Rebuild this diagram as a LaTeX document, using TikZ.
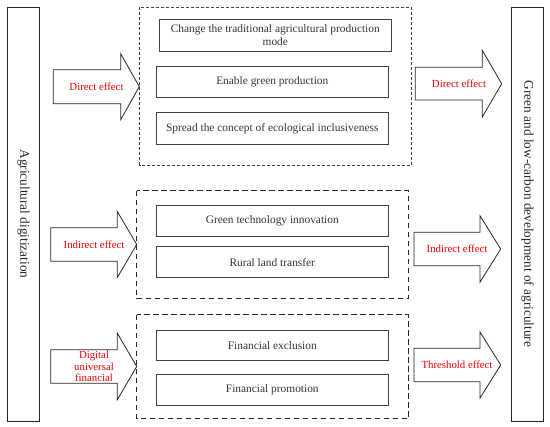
\documentclass[tikz,border=0pt]{standalone}
\usepackage{fontspec}
\setmainfont{Liberation Serif}
\begin{document}
\begin{tikzpicture}[x=1pt,y=-1pt,
  bar/.style={draw=black!85,line width=0.9pt},
  itembox/.style={draw=black!75,line width=0.8pt},
  itemtext/.style={font=\fontsize{11.4}{12.5}\selectfont,text=black!80,align=center},
  finedash/.style={draw=black!75,line width=0.6pt,dash pattern=on 3pt off 2pt},
  coarsedash/.style={draw=black!85,line width=1pt,dash pattern=on 5.5pt off 3.5pt},
  blockarrow/.style={draw=black!85,line width=0.8pt,fill=white,line join=miter},
  redlbl/.style={font=\fontsize{10.8}{11.7}\selectfont,text=red!90!black,align=center,inner sep=0pt},
  sidelbl/.style={rotate=-90,font=\fontsize{13.3}{15}\selectfont,text=black!85}
]
\useasboundingbox (0,0) rectangle (550,427);
% side bars
\draw[bar] (7,7) rectangle (39.5,421);
\node[sidelbl] (src) at (23.5,214) {Agricultural digitization};
\draw[bar] (511,7.5) rectangle (543.5,421.5);
\node[sidelbl] (dst) at (527.5,214) {Green and low-carbon development of agriculture};
% dashed groups
\draw[finedash] (139.7,7.5) rectangle (411.3,165.3);
\draw[coarsedash] (136.7,190.7) rectangle (408.3,298.7);
\draw[coarsedash] (136.7,315) rectangle (408.3,419);
% item boxes
\draw[itembox] (159,19.3) rectangle (391.7,51);
\node[itemtext] (b1) at (275.3,35.2) {Change the traditional agricultural production\\mode};
\draw[itembox] (156,66) rectangle (388.7,97.7);
\node[itemtext] (b2) at (272.3,81.8) {Enable green production};
\draw[itembox] (156,112.7) rectangle (388.7,144);
\node[itemtext] (b3) at (272.3,128.3) {Spread the concept of ecological inclusiveness};
\draw[itembox] (156,205) rectangle (388.7,236.7);
\node[itemtext] (b4) at (272.3,220.8) {Green technology innovation};
\draw[itembox] (156,246.7) rectangle (388.7,277.7);
\node[itemtext] (b5) at (272.3,262.2) {Rural land transfer};
\draw[itembox] (156,330) rectangle (388.7,360.7);
\node[itemtext] (b6) at (272.3,345.3) {Financial exclusion};
\draw[itembox] (156,374.3) rectangle (388.7,405.7);
\node[itemtext] (b7) at (272.3,390) {Financial promotion};
% block arrows: #1 tail x, #2 neck x, #3 tip x, #4 center y, #5 shaft half, #6 head half
\newcommand{\blockarr}[6]{%
  \draw[blockarrow] (#1,#4-#5) -- (#2,#4-#5) -- (#2,#4-#6) -- (#3,#4) -- (#2,#4+#6) -- (#2,#4+#5) -- (#1,#4+#5) -- cycle;}
\blockarr{53.3}{120.7}{139.3}{86.7}{17}{33}
\node[redlbl] (a1) at (96.5,86.7) {Direct effect};
\blockarr{50.7}{117.3}{136.7}{244.5}{16.7}{33}
\node[redlbl] (a2) at (94,244.5) {Indirect effect};
\blockarr{50.7}{117.3}{136.7}{366.5}{16.7}{33.3}
\node[redlbl] (a3) at (94,366.5) {Digital\\universal\\financial};
\blockarr{415.3}{482.3}{501.7}{83.7}{16.4}{33.3}
\node[redlbl] (a4) at (459,83.7) {Direct effect};
\blockarr{414}{480}{500.7}{249}{16.7}{33.2}
\node[redlbl] (a5) at (457,249) {Indirect effect};
\blockarr{414}{480}{500.7}{365}{16.7}{33}
\node[redlbl] (a6) at (457,365) {Threshold effect};
\end{tikzpicture}
\end{document}
